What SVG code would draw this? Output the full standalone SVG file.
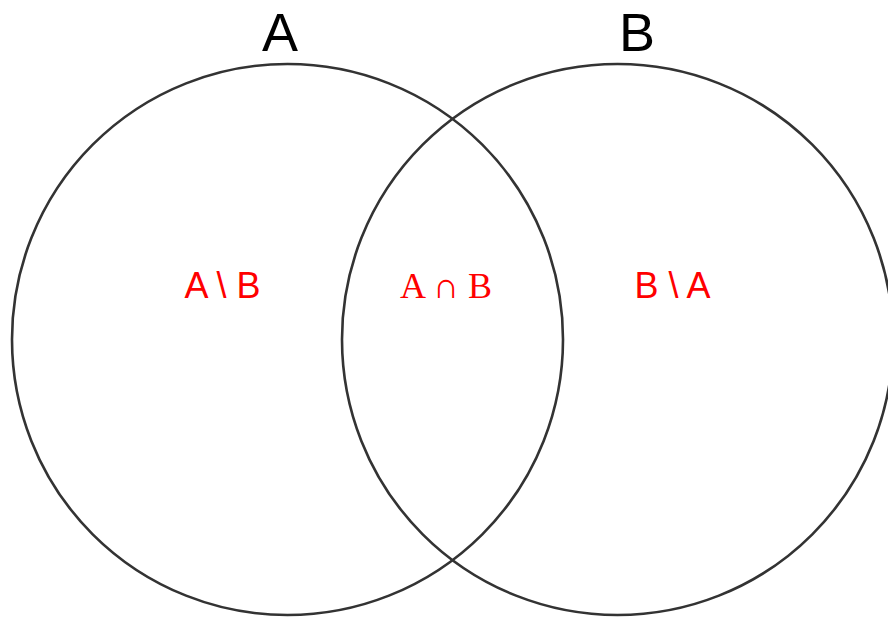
<svg xmlns="http://www.w3.org/2000/svg" width="888" height="619" viewBox="0 0 888 619">
<style>
.c{fill:none;stroke:#333;stroke-width:2.6}
.t{font-family:"Liberation Sans",Arial,sans-serif;fill:#000;text-anchor:middle}
.r{font-family:"Liberation Sans",Arial,sans-serif;fill:#ff0000;text-anchor:middle;font-size:36px}
.s{font-family:"Liberation Serif","Times New Roman",serif;fill:#ff0000;text-anchor:middle;font-size:36px}
</style>
<rect width="888" height="619" fill="#fff"/>
<g id="setA">
<circle class="c" cx="287.5" cy="339.5" r="275.5"/>
<text class="t" x="280" y="51" font-size="54">A</text>
</g>
<g id="setB">
<circle class="c" cx="617.5" cy="339.5" r="275.5"/>
<text class="t" x="637" y="51" font-size="54">B</text>
</g>
<g id="regions">
<text class="r" x="222.5" y="298">A \ B</text>
<text class="s" x="446" y="298">A ∩ B</text>
<text class="r" x="672.5" y="298">B \ A</text>
</g>
</svg>
